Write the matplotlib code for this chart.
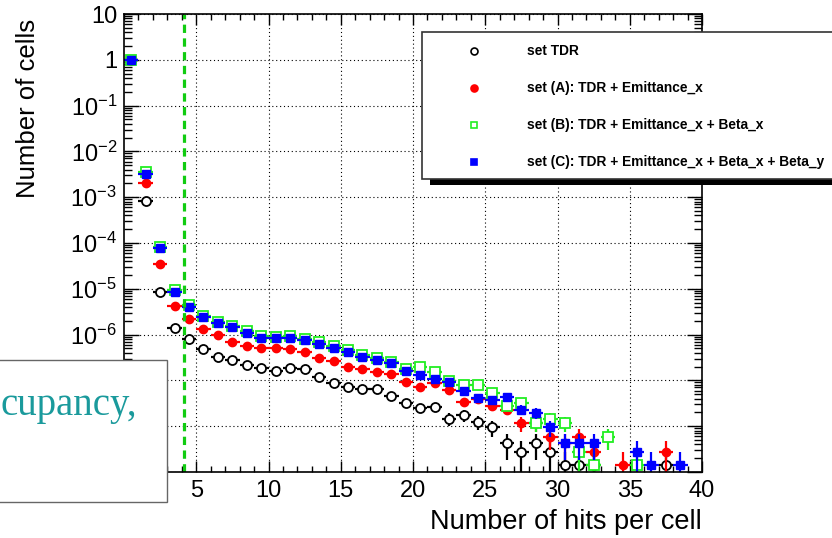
import numpy as np
import matplotlib
matplotlib.use('Agg')
import matplotlib.pyplot as plt
from matplotlib.patches import Rectangle
from matplotlib.lines import Line2D
from matplotlib.ticker import FixedLocator, FixedFormatter, MultipleLocator, LogLocator, NullFormatter

plt.rcParams['font.family'] = ['Liberation Sans', 'DejaVu Sans']
plt.rcParams['mathtext.fontset'] = 'custom'
plt.rcParams['mathtext.rm'] = 'Liberation Sans'
plt.rcParams['mathtext.it'] = 'Liberation Sans:italic'
plt.rcParams['mathtext.bf'] = 'Liberation Sans:bold'

# number of hits per cell (bin centres, bin width 1)
hits = np.arange(39) + 0.5
nan = np.nan

# fraction of cells
set_tdr = [1.0, 8.3e-4, 8.5e-6, 1.38e-6, 7.9e-7, 4.9e-7, 3.2e-7, 2.8e-7, 2.2e-7, 1.86e-7,
           1.62e-7, 1.86e-7, 1.78e-7, 1.17e-7, 8.7e-8, 7.2e-8, 6.5e-8, 6.5e-8, 4.6e-8, 3.2e-8,
           2.5e-8, 2.6e-8, 1.45e-8, 1.74e-8, 1.23e-8, 9.5e-9, 4.3e-9, 2.8e-9, 4.3e-9, 2.8e-9,
           1.4e-9, 1.4e-9, 1.4e-9, nan, nan, nan, nan, 1.4e-9, nan]
set_a = [1.0, 2.0e-3, 3.5e-5, 4.2e-6, 2.2e-6, 1.32e-6, 9.8e-7, 6.9e-7, 5.6e-7, 5.1e-7,
         5.1e-7, 4.9e-7, 4.2e-7, 3.1e-7, 2.6e-7, 2.0e-7, 1.78e-7, 1.51e-7, 1.38e-7, 9.1e-8,
         7.2e-8, 8.7e-8, 6.2e-8, 3.4e-8, 3.9e-8, 2.75e-8, 2.3e-8, 1.17e-8, 1.17e-8, 5.8e-9,
         4.3e-9, 5.8e-9, 2.8e-9, nan, 1.4e-9, nan, nan, 2.8e-9, nan]
set_b = [1.0, 3.5e-3, 8.3e-5, 9.3e-6, 4.5e-6, 2.6e-6, 1.9e-6, 1.58e-6, 1.17e-6, 9.1e-7,
         8.9e-7, 9.3e-7, 8.1e-7, 6.8e-7, 5.5e-7, 4.6e-7, 3.5e-7, 3.1e-7, 2.5e-7, 1.74e-7,
         2.0e-7, 1.51e-7, 9.5e-8, 7.9e-8, 7.9e-8, 5.2e-8, 2.75e-8, 3.2e-8, 1.17e-8, 1.45e-8,
         1.17e-8, 2.8e-9, 1.4e-9, 5.8e-9, nan, 1.4e-9, nan, nan, nan]
set_c = [1.0, 3.2e-3, 7.8e-5, 8.5e-6, 4.0e-6, 2.4e-6, 1.78e-6, 1.48e-6, 1.07e-6, 8.5e-7,
         8.5e-7, 8.5e-7, 7.6e-7, 6.2e-7, 5.1e-7, 4.2e-7, 3.2e-7, 2.8e-7, 2.4e-7, 1.62e-7,
         1.32e-7, 1.07e-7, 9.1e-8, 5.9e-8, 4.2e-8, 3.7e-8, 4.4e-8, 2.3e-8, 1.95e-8, 9.5e-9,
         4.3e-9, 4.3e-9, 4.3e-9, nan, nan, 2.8e-9, 1.4e-9, nan, 1.4e-9]
one_cell = 1.4e-9  # weight of a single entry

labels = ['set TDR', 'set (A): TDR + Emittance_x', 'set (B): TDR + Emittance_x + Beta_x',
          'set (C): TDR + Emittance_x + Beta_x + Beta_y']
cut = 4.17

# 1e-7..1e-9 labels sit under the pasted slide box, so they stay empty
ytick_vals = [1e-9, 1e-8, 1e-7, 1e-6, 1e-5, 1e-4, 1e-3, 1e-2, 1e-1, 1, 10]
ytick_labels = ['', '', '', '$10^{-6}$', '$10^{-5}$', '$10^{-4}$',
                '$10^{-3}$', '$10^{-2}$', '$10^{-1}$', '1', '10']

W, H = 832, 538
fig = plt.figure(figsize=(W / 100, H / 100), dpi=100)
ax = fig.add_axes([124 / W, 1 - 472 / H, (702 - 124) / W, (472 - 14) / H])

styles = [
    dict(color='black', marker='o', mfc='white', mec='black', ms=6.5, mew=1.3),
    dict(color='#ff0000', marker='o', mfc='#ff0000', mec='#ff0000', ms=6, mew=1),
    dict(color='#22ee22', marker='s', mfc='white', mec='#22ee22', ms=6.5, mew=1.3),
    dict(color='#0000ff', marker='s', mfc='#0000ff', mec='#0000ff', ms=6, mew=1),
]

handles = []
for vals, st in zip([set_tdr, set_a, set_b, set_c], styles):
    y = np.array(vals)
    ok = ~np.isnan(y)
    x = hits[ok]
    y = y[ok]
    err = np.sqrt(y * one_cell)
    lo = np.where(y - err <= 0, y - 1e-12, err)
    ax.errorbar(x, y, yerr=[lo, err], xerr=0.5, fmt='none', ecolor=st['color'],
                elinewidth=1.6, capsize=0)
    ln, = ax.plot(x, y, ls='none', marker=st['marker'], mfc=st['mfc'], mec=st['mec'],
                  ms=st['ms'], mew=st['mew'])
    handles.append(ln)

ax.axvline(cut, color='#11cc11', lw=2.3, ls=(0, (2.6, 1.7)))

ax.set_yscale('log')
ax.set_xlim(0, 40)
ax.set_ylim(1e-9, 10)
ax.xaxis.set_major_locator(MultipleLocator(5))
ax.xaxis.set_minor_locator(MultipleLocator(1))
ax.set_xticks([5, 10, 15, 20, 25, 30, 35, 40])
ax.yaxis.set_major_locator(FixedLocator(ytick_vals))
ax.yaxis.set_major_formatter(FixedFormatter(ytick_labels))
ax.yaxis.set_minor_locator(LogLocator(base=10, subs=np.arange(2, 10), numticks=100))
ax.yaxis.set_minor_formatter(NullFormatter())
ax.grid(True, which='major', color='black', lw=0.8, ls=(0, (1, 2.5)))

ax.tick_params(which='both', direction='in', top=True, right=True, labelsize=17, width=1)
ax.tick_params(axis='x', which='major', length=8, pad=6)
ax.tick_params(axis='x', which='minor', length=4)
ax.tick_params(axis='y', which='major', length=11, pad=5)
ax.tick_params(axis='y', which='minor', length=6)
for s in ax.spines.values():
    s.set_linewidth(1.2)

ax.set_xlabel('Number of hits per cell', fontsize=19.5, ha='right')
ax.xaxis.set_label_coords(1.0, -0.08)
ax.set_ylabel('Number of cells', fontsize=18.5, loc='top')
ax.yaxis.set_label_coords(-0.145, 0.99)

# legend box with ROOT-like shadow, partly outside the frame
fig.add_artist(Rectangle((430 / W, 1 - 185 / H), 500 / W, (185 - 38) / H,
                         transform=fig.transFigure, facecolor='black', edgecolor='none', zorder=9))
fig.add_artist(Rectangle((422 / W, 1 - 179 / H), 500 / W, (179 - 32) / H,
                         transform=fig.transFigure, facecolor='white', edgecolor='#333333',
                         lw=1.2, zorder=10))
for i, (h, lab) in enumerate(zip(handles, labels)):
    yy = 1 - (51 + 37 * i) / H
    fig.add_artist(Line2D([474 / W], [yy], transform=fig.transFigure, ls='none',
                          marker=h.get_marker(), mfc=h.get_mfc(), mec=h.get_mec(),
                          ms=5, mew=1.2, zorder=11))
    fig.text(527 / W, yy, lab, fontsize=9.9, fontweight='bold', va='center', ha='left', zorder=11)

# overlapping slide box
fig.add_artist(Rectangle((-10 / W, 1 - 502 / H), 177 / W, (502 - 360) / H,
                         transform=fig.transFigure, facecolor='white', edgecolor='#666666',
                         lw=1.0, zorder=12))
fig.text(1 / W, 1 - 415 / H, 'cupancy,', fontsize=28, family=['Liberation Serif'],
         color='#1a9a9c', ha='left', va='baseline', zorder=13)

fig.savefig('out.png', dpi=100)
